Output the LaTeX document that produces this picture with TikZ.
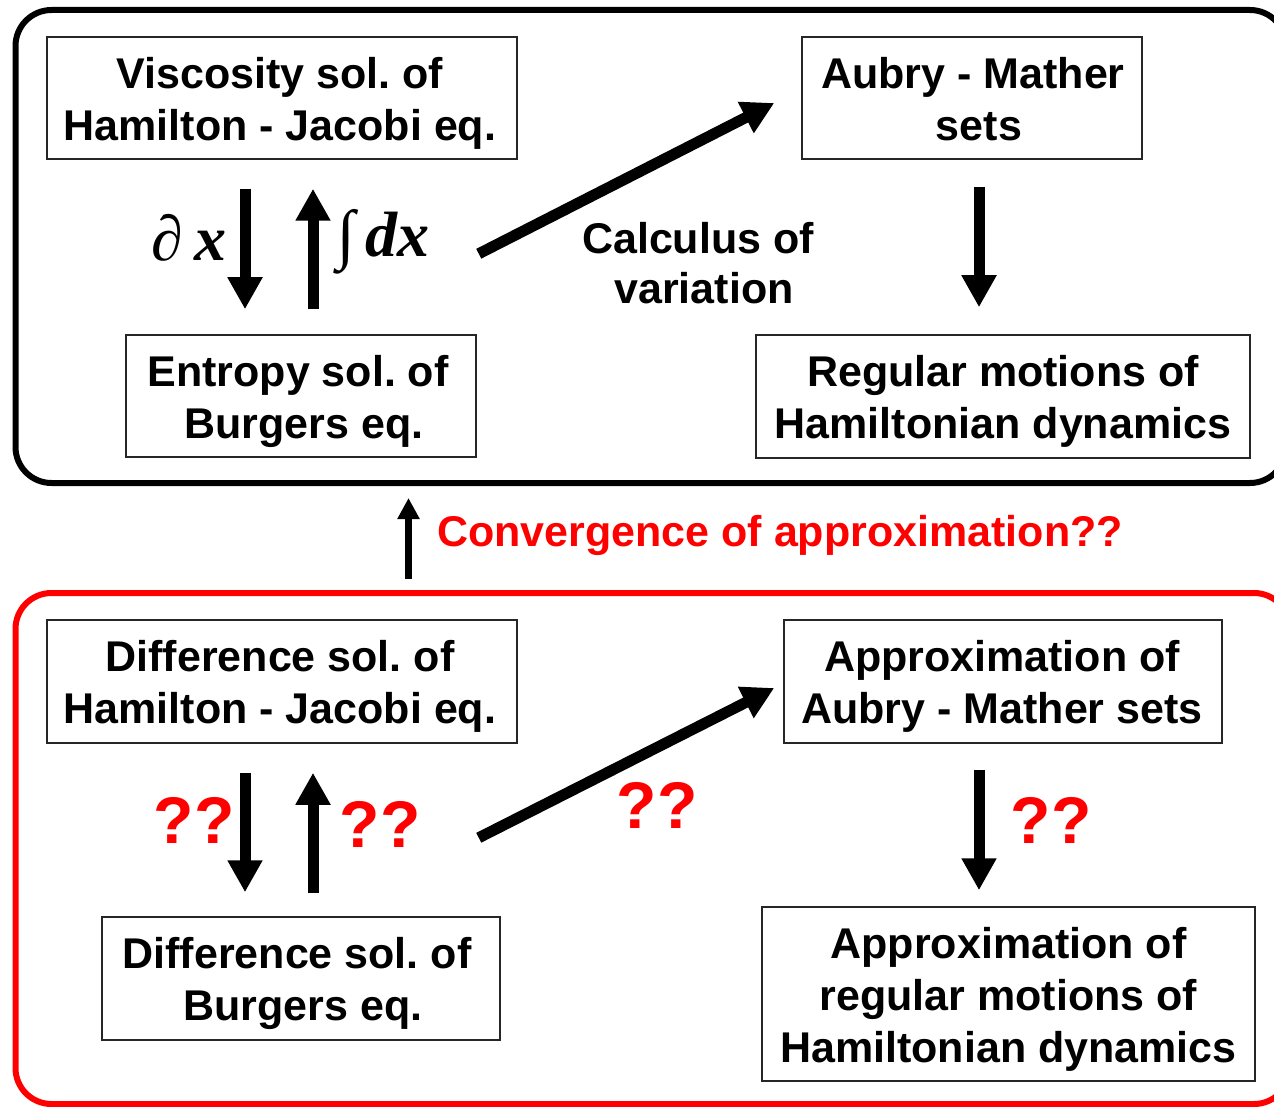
\documentclass[tikz,border=0pt]{standalone}
\usepackage{fontspec}
\setmainfont{Liberation Sans}
\newfontfamily\serifit{Liberation Serif}
\usetikzlibrary{arrows.meta,calc}
\frenchspacing
\begin{document}
\begin{tikzpicture}[x=1pt,y=-1pt,
  box/.style={draw=black!85,line width=1.5pt,inner sep=0pt},
  boxtext/.style={align=center,inner sep=0pt,
    font=\fontsize{43}{52}\selectfont\bfseries},
  bigarrow/.style={line width=11pt,-{Triangle[width=33pt,length=32pt]}},
  smallarrow/.style={line width=7pt,-{Triangle[width=21pt,length=21pt]}},
  frame/.style={line width=6pt,rounded corners=36pt},
  lbl/.style={font=\fontsize{43}{50}\selectfont\bfseries,align=center,inner sep=0pt},
  qq/.style={font=\fontsize{66}{66}\selectfont\bfseries,text=red,inner sep=0pt,anchor=base},
  mathlbl/.style={font=\fontsize{64}{64}\selectfont\serifit\bfseries\itshape,inner sep=0pt}]
\useasboundingbox (0,0) rectangle (1274,1107);
% frames
\draw[frame,black] (15.5,10) rectangle (1286,483);
\draw[frame,red] (15.5,593) rectangle (1290,1104);
% boxes
\node[box,minimum width=470,minimum height=122] (vis) at (282,98) {};
\node[box,minimum width=340,minimum height=122] (aub) at (972,98) {};
\node[box,minimum width=350,minimum height=122] (ent) at (301,396) {};
\node[box,minimum width=494,minimum height=123] (reg) at (1003,396.5) {};
\node[box,minimum width=470,minimum height=123] (dhj) at (282,681.5) {};
\node[box,minimum width=438,minimum height=123] (aam) at (1003,681.5) {};
\node[box,minimum width=398,minimum height=123] (dbu) at (301,978.5) {};
\node[box,minimum width=493,minimum height=174] (arm) at (1008.5,994) {};
\node[boxtext] (vist) at ($(vis.center)+(-2,5)$) {Viscosity sol. of\\Hamilton - Jacobi eq.};
\node[boxtext] (aubt) at ($(aub.center)+(1,1)$) {Aubry - Mather\\\ sets};
\node[boxtext] (entt) at ($(ent.center)+(-3,5)$) {Entropy sol. of\\\ Burgers eq.};
\node[boxtext] (regt) at ($(reg.center)+(0,5)$) {Regular motions of\\Hamiltonian dynamics};
\node[boxtext] (dhjt) at ($(dhj.center)+(-2,5)$) {Difference sol. of\\Hamilton - Jacobi eq.};
\node[boxtext] (aamt) at ($(aam.center)+(-1,5)$) {Approximation of\\Aubry - Mather sets};
\node[boxtext] (dbut) at ($(dbu.center)+(-4,5)$) {Difference sol. of\\\ Burgers eq.};
\node[boxtext] (armt) at ($(arm.center)+(0,5)$) {Approximation of\\regular motions of\\Hamiltonian dynamics};
% top arrows
\draw[bigarrow] ($(vis.south)+(-37,29)$) -- ($(ent.north)+(-56,-25)$);
\draw[bigarrow] ($(ent.north)+(12,-25)$) -- ($(vis.south)+(31,29)$);
\draw[bigarrow] ($(vis.south east)+(-39,94)$) -- ($(aub.west)+(-27,5)$);
\draw[bigarrow] ($(aub.south)+(7,27)$) -- ($(reg.north)+(-24,-27)$);
% bottom arrows
\draw[bigarrow] ($(dhj.south)+(-37,29)$) -- ($(dbu.north)+(-56,-24)$);
\draw[bigarrow] ($(dbu.north)+(12,-23)$) -- ($(dhj.south)+(31,29)$);
\draw[bigarrow] ($(dhj.south east)+(-39,94)$) -- ($(aam.west)+(-9,6.5)$);
\draw[bigarrow] ($(aam.south)+(-24,26)$) -- ($(arm.north)+(-29.5,-16)$);
% convergence arrow
\coordinate (convs) at (408.5,579);
\coordinate (conve) at (408.5,498);
\draw[smallarrow] (convs) -- (conve);
% labels
\node[mathlbl] (dx) at (189,238) {∂\,x};
\node[mathlbl] (intdx) at (383,242) {{\fontsize{66}{66}\selectfont ∫}\,dx};
\node[lbl] (calc) at (698,263) {Calculus of\\\ variation};
\node[lbl,text=red] (conv) at (780,535) {Convergence of approximation??};
\node[qq] (q1) at (194,843) {??};
\node[qq] (q2) at (380,847) {??};
\node[qq] (q3) at (657,828) {??};
\node[qq] (q4) at (1051,843) {??};
\end{tikzpicture}
\end{document}
